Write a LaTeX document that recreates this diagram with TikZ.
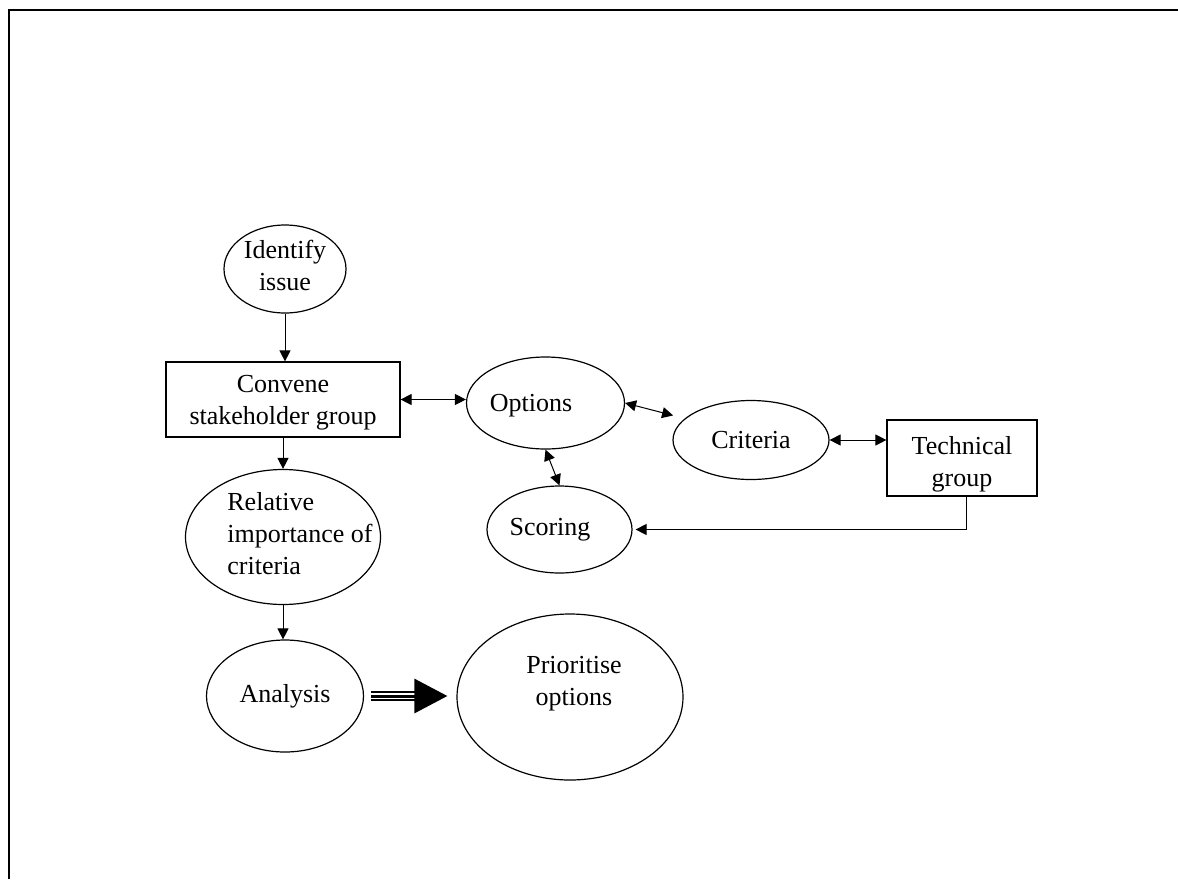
\documentclass[tikz,border=0pt]{standalone}
\usepackage{fontspec}
\setmainfont{Liberation Serif}
\usetikzlibrary{arrows.meta,calc,shapes.geometric}

\tikzset{
  bub/.style={draw, ellipse, line width=0.6pt, inner sep=0pt},
  box/.style={draw, rectangle, line width=0.6pt, inner sep=0pt},
  txt/.style={align=center, inner sep=0pt},
  link/.style={line width=0.5pt, -{Triangle[length=5.5pt,width=5.5pt]}},
  both/.style={line width=0.5pt, {Triangle[length=5.5pt,width=5.5pt]}-{Triangle[length=5.5pt,width=5.5pt]}},
}

\begin{document}
\begin{tikzpicture}[x=0.5pt, y=-0.5pt, font=\fontsize{13}{16}\selectfont]
    \useasboundingbox (0,0) rectangle (1178,879);
    % page frame
    \draw[line width=1pt] (9,879) -- (9,10) -- (1178,10);

    % left column
    \node[bub, minimum width=61pt, minimum height=44pt] (iden) at (285,269) {};
    \node[txt] (idenT) at (285,265) {Identify\\issue};
    \node[box, minimum width=117pt, minimum height=37.5pt] (conv) at (283,399.5) {};
    \node[txt] (convT) at (283,403) {Convene\\stakeholder group};
    \node[bub, minimum width=97.5pt, minimum height=67.5pt] (rel) at (283,537) {};
    \node[txt, align=left, anchor=west] (relT) at (227,534) {Relative\\importance of\\criteria};
    \node[bub, minimum width=78.5pt, minimum height=56pt] (ana) at (285,696) {Analysis};

    % options, criteria, scoring
    \node[bub, minimum width=113pt, minimum height=83pt] (prio) at (570,697) {};
    \node[txt] (prioT) at (574,684) {Prioritise\\options};
    \node[bub, minimum width=79pt, minimum height=46pt] (opt) at (545.5,403) {};
    \node[txt] (optT) at (531,406) {Options};
    \node[bub, minimum width=78pt, minimum height=39.5pt] (crit) at (751,440) {Criteria};
    \node[box, minimum width=75pt, minimum height=38pt] (tech) at (962,458) {};
    \node[txt] (techT) at (962,464) {Technical\\group};
    \node[bub, minimum width=72.5pt, minimum height=43.5pt] (scor) at (559.5,529.5) {};
    \node[txt] (scorT) at (550,530) {Scoring};

    % connectors
    \draw[link] (iden) -- (iden |- conv.north);
    \draw[link] (conv.south) -- (rel.north);
    \draw[link] (rel.south) -- (rel.south |- ana.north);
    \draw[both] (conv.east) -- (conv.east -| opt.west);
    \draw[both, shorten >=6pt] (opt.east) -- (crit.162);
    \draw[both] (crit.east) -- (crit.east -| tech.west);
    \draw[both] (opt.south) -- (scor.north);
    \draw[link, shorten >=1.5pt] ([xshift=2pt]tech.south) |- (scor.east);

    % big arrow to the result
    \draw[line width=1pt, double distance=2.6pt, shorten <=3.5pt, shorten >=20pt] (ana.east) -- (ana.east -| prio.west);
    \draw[line width=1.5pt, -{Triangle[length=16.5pt,width=17pt]}, shorten <=3.5pt, shorten >=4.5pt] (ana.east) -- (ana.east -| prio.west);
\end{tikzpicture}
\end{document}
